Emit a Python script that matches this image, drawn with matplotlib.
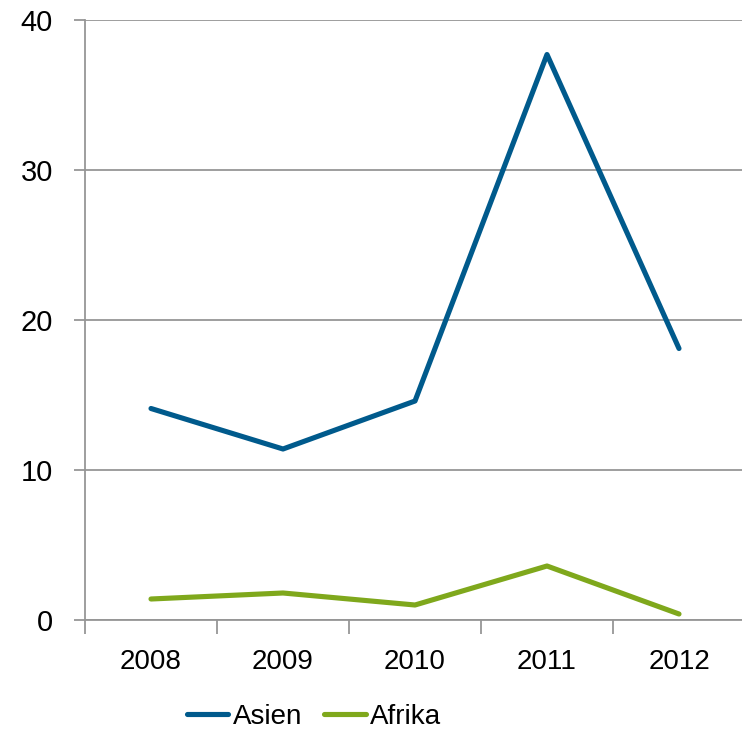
import matplotlib.pyplot as plt
from matplotlib.lines import Line2D

years = ['2008', '2009', '2010', '2011', '2012']
asien = [14.1, 11.4, 14.6, 37.7, 18.1]
afrika = [1.4, 1.8, 1.0, 3.6, 0.4]

plt.rcParams['font.family'] = ['Liberation Sans', 'DejaVu Sans']

fig = plt.figure(figsize=(7.42, 7.34), dpi=100)
ax = fig.add_axes([85 / 742, 1 - 620 / 734, 660 / 742, 600 / 734])

x = range(len(years))
ax.plot(x, asien, color='#005A8C', lw=3.7, solid_capstyle='round', solid_joinstyle='round', label='Asien')
ax.plot(x, afrika, color='#7FA81C', lw=3.7, solid_capstyle='round', solid_joinstyle='round', label='Afrika')

ax.set_xlim(-0.5, len(years) - 0.5)
ax.set_ylim(0, 40)
ax.set_yticks([0, 10, 20, 30, 40])
ax.yaxis.grid(True, color='#969696', lw=1.3)
ax.set_axisbelow(True)

# category ticks sit between the labels
ax.set_xticks([i - 0.5 for i in range(len(years) + 1)])
ax.set_xticklabels([])
ax.set_xticks(list(x), minor=True)
ax.set_xticklabels(years, minor=True)
ax.tick_params(axis='x', which='minor', length=0, pad=21, labelsize=20)
ax.tick_params(axis='x', which='major', length=10, width=1.3, color='#969696')
ax.tick_params(axis='y', length=8, width=1.3, color='#969696', labelsize=21, pad=15)

for s in ['top', 'right']:
    ax.spines[s].set_visible(False)
for s in ['left', 'bottom']:
    ax.spines[s].set_color('#969696')
    ax.spines[s].set_linewidth(1.3)

handles = [Line2D([], [], color='#005A8C', lw=3.7, solid_capstyle='round'),
           Line2D([], [], color='#7FA81C', lw=3.7, solid_capstyle='round')]
fig.legend(handles, ['Asien', 'Afrika'], loc='center', bbox_to_anchor=(0.423, 1 - 717 / 734),
           ncol=2, frameon=False, fontsize=20, handlelength=1.5, handletextpad=0.15, columnspacing=0.8,
           borderaxespad=0, borderpad=0)

fig.savefig('out.png', dpi=100)
